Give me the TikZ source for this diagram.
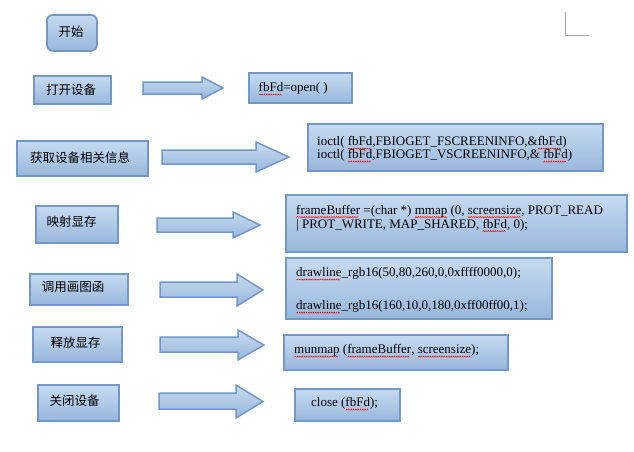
\documentclass[tikz,border=0pt]{standalone}
\usepackage{fontspec}
\setmainfont{Liberation Serif}
\newfontfamily\cjk{Noto Sans CJK SC}
\definecolor{boxtop}{HTML}{C6DAF1}
\definecolor{boxbot}{HTML}{98B7DC}
\definecolor{boxline}{HTML}{7398C5}
\newsavebox\splbox
\newcommand\wavepiece{\tikz[baseline=0pt]\draw[red,line width=0.5pt] (0pt,0pt) -- (0.9pt,1.1pt) -- (1.8pt,0pt);}
\newcommand\spl[1]{\sbox\splbox{#1}\rlap{\raisebox{-3.4pt}{\hbox to \wd\splbox{\leaders\hbox{\wavepiece}\hfill}}}\usebox\splbox}
\newcommand\myarrow[8]{% name, x1, xh, x2, shaft top, shaft bot, head top, head bot
  \draw[arrowbox] (#2,#5) -- (#3,#5) -- (#3,#7) -- (#4,{(#7+#8)/2}) coordinate (#1)
    -- (#3,#8) -- (#3,#6) -- (#2,#6) -- cycle;}
\tikzset{
  box/.style={draw=boxline, line width=1.8pt, top color=boxtop, bottom color=boxbot,
    inner sep=0pt, anchor=north west},
  cn/.style={font=\cjk\fontsize{12.5}{15}\selectfont, inner sep=0pt},
  en/.style={font=\fontsize{13}{14}\selectfont, inner sep=0pt, anchor=west, align=left},
  arrowbox/.style={draw=boxline, line width=1.5pt, top color=boxtop, bottom color=boxbot, line join=miter},
}
\begin{document}
\begin{tikzpicture}[x=1pt,y=-1pt]
\useasboundingbox (0,0) rectangle (634,452);
% corner mark
\draw[gray!70, line width=0.9pt] (565,12) coordinate (m1) -- (565,35) coordinate (m2) -- (589,35) coordinate (m3);
% start
\node[box, rounded corners=6pt, minimum width=50pt, minimum height=36pt] (start) at (46,14) {};
\node[cn] (startt) at (71,32) {开始};
% left boxes
\node[box, minimum width=77pt, minimum height=28pt] (L1) at (33,75) {};
\node[cn] (L1t) at (71,89.5) {打开设备};
\node[box, minimum width=131pt, minimum height=35pt] (L2) at (16,140) {};
\node[cn] (L2t) at (80,157.5) {获取设备相关信息};
\node[box, minimum width=82pt, minimum height=37pt] (L3) at (35,205) {};
\node[cn] (L3t) at (71.5,221.5) {映射显存};
\node[box, minimum width=98pt, minimum height=31pt] (L4) at (29,273) {};
\node[cn] (L4t) at (73,286.5) {调用画图函};
\node[box, minimum width=89pt, minimum height=35pt] (L5) at (32,326) {};
\node[cn] (L5t) at (75.5,342.5) {释放显存};
\node[box, minimum width=81pt, minimum height=36pt] (L6) at (37,384) {};
\node[cn] (L6t) at (74.5,400.5) {关闭设备};
% right boxes
\node[box, minimum width=103pt, minimum height=30pt] (R1) at (248,72) {};
\node[en] (R1t) at (258.5,89) {\spl{fbFd}=open( )};
\node[box, minimum width=295pt, minimum height=47pt] (R2) at (307,123) {};
\node[en, font=\fontsize{13}{13}\selectfont] (R2t) at (317,149.5) {ioctl( \spl{fbFd},FBIOGET\_FSCREENINFO,\&\spl{fbFd})\\ioctl( \spl{fbFd},FBIOGET\_VSCREENINFO,\& \spl{fbFd})};
\node[box, minimum width=341pt, minimum height=57pt] (R3) at (285,194) {};
\node[en, font=\fontsize{13}{14}\selectfont] (R3t) at (296,218.5) {\spl{frameBuffer} =(char *) \spl{mmap} (0, \spl{screensize}, PROT\_READ\\| PROT\_WRITE, MAP\_SHARED, \spl{fbFd}, 0);};
\node[box, minimum width=266pt, minimum height=61pt] (R4) at (285,257) {};
\node[en, font=\fontsize{13}{16.5}\selectfont] (R4t) at (296,290.5) {\spl{drawline}\_rgb16(50,80,260,0,0xffff0000,0);\\[16.5pt]\spl{drawline}\_rgb16(160,10,0,180,0xff00ff00,1);};
\node[box, minimum width=224pt, minimum height=35pt] (R5) at (283,334) {};
\node[en] (R5t) at (294,351) {\spl{munmap} (\spl{frameBuffer}, \spl{screensize});};
\node[box, minimum width=105pt, minimum height=32pt] (R6) at (294,388) {};
\node[en] (R6t) at (311,404) {close (\spl{fbFd});};
% block arrows
\myarrow{a1}{143}{202}{223}{82}{94}{77}{99}
\myarrow{a2}{162}{256}{289}{150}{164}{142}{172}
\myarrow{a3}{157}{233}{260}{218}{232}{212}{238}
\myarrow{a4}{160}{237}{263}{282}{297}{274}{306}
\myarrow{a5}{160}{238}{264}{337}{352}{330}{360}
\myarrow{a6}{159}{236}{263}{393}{409}{385}{418}
\end{tikzpicture}
\end{document}
